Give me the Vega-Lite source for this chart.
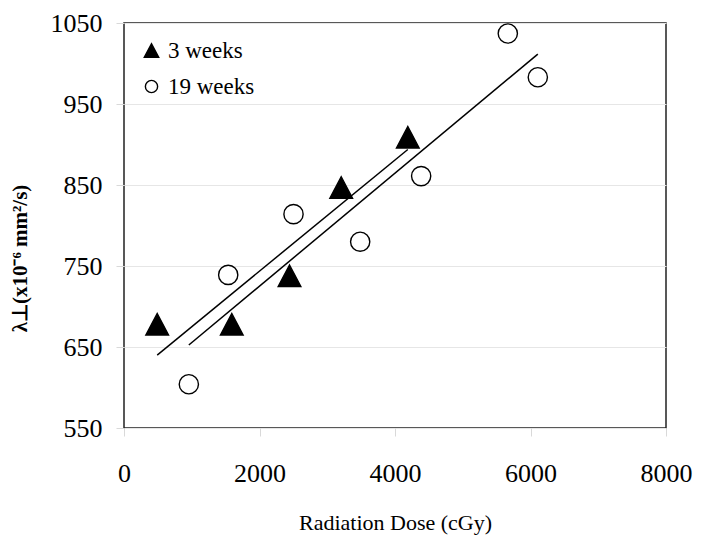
{
  "$schema": "https://vega.github.io/schema/vega-lite/v6.json",
  "width": 542,
  "height": 405,
  "autosize": "none",
  "padding": {"left": 124, "top": 23, "right": 42, "bottom": 118},
  "background": "white",
  "config": {
    "font": "Liberation Serif",
    "view": {"stroke": "#222222", "strokeWidth": 1.5},
    "legend": {
      "orient": "none",
      "legendX": 16,
      "legendY": 16,
      "padding": 0,
      "labelFontSize": 23,
      "labelColor": "black",
      "labelOffset": 5,
      "rowPadding": 12,
      "symbolSize": 150,
      "symbolStrokeWidth": 1.4
    }
  },
  "data": {
    "values": [
      {"series": "3 weeks", "dose": 490, "value": 678},
      {"series": "3 weeks", "dose": 1591, "value": 678},
      {"series": "3 weeks", "dose": 2443, "value": 738},
      {"series": "3 weeks", "dose": 3206, "value": 847},
      {"series": "3 weeks", "dose": 4189, "value": 909},
      {"series": "19 weeks", "dose": 957, "value": 604},
      {"series": "19 weeks", "dose": 1538, "value": 739},
      {"series": "19 weeks", "dose": 2502, "value": 814},
      {"series": "19 weeks", "dose": 3486, "value": 780},
      {"series": "19 weeks", "dose": 4386, "value": 861},
      {"series": "19 weeks", "dose": 5665, "value": 1037},
      {"series": "19 weeks", "dose": 6108, "value": 983}
    ]
  },
  "encoding": {
    "x": {
      "field": "dose",
      "type": "quantitative",
      "scale": {"domain": [0, 8000], "nice": false, "zero": false},
      "axis": {
        "values": [0, 2000, 4000, 6000, 8000],
        "format": "d",
        "grid": false,
        "domain": false,
        "ticks": true,
        "tickColor": "#d9d9d9",
        "tickSize": 8,
        "labelPadding": 24,
        "labelFontSize": 26,
        "labelColor": "black",
        "labelFlush": false,
        "title": "Radiation Dose (cGy)",
        "titleFontSize": 22,
        "titleFontWeight": "normal",
        "titleColor": "black",
        "titleBaseline": "middle",
        "titleY": 94
      }
    },
    "y": {
      "field": "value",
      "type": "quantitative",
      "scale": {"domain": [550, 1050], "nice": false, "zero": false},
      "axis": {
        "values": [550, 650, 750, 850, 950, 1050],
        "format": "d",
        "grid": true,
        "gridColor": "#e6e6e6",
        "gridWidth": 1,
        "domain": false,
        "ticks": true,
        "tickColor": "#d9d9d9",
        "tickSize": 8,
        "labelPadding": 14,
        "labelFontSize": 26,
        "labelColor": "black",
        "labelFlush": false,
        "title": "λ⊥(x10⁻⁶ mm²/s)",
        "titleFontSize": 21,
        "titleFontWeight": "bold",
        "titleColor": "black",
        "titleAngle": -90,
        "titleAlign": "center",
        "titleBaseline": "middle",
        "titleX": -104,
        "titleY": 235
      }
    }
  },
  "layer": [
    {
      "transform": [
        {"regression": "value", "on": "dose", "groupby": ["series"]}
      ],
      "mark": {"type": "line", "color": "black", "strokeWidth": 1.5},
      "encoding": {"detail": {"field": "series"}}
    },
    {
      "mark": {
        "type": "point",
        "filled": false,
        "color": "black",
        "stroke": "black",
        "strokeWidth": 1.4,
        "opacity": 1,
        "fillOpacity": 1,
        "strokeOpacity": 1,
        "size": 370
      },
      "encoding": {
        "shape": {
          "field": "series",
          "type": "nominal",
          "scale": {
            "domain": ["3 weeks", "19 weeks"],
            "range": ["M-1.18,1.12L1.18,1.12L0,-1.12Z", "circle"]
          },
          "legend": {
            "title": null,
            "symbolStrokeColor": "black",
            "symbolFillColor": "white",
            "encode": {
              "symbols": {
                "update": {
                  "fill": {"signal": "datum.value === '3 weeks' ? 'black' : 'white'"},
                  "stroke": {"value": "black"},
                  "strokeWidth": {"value": 1.4},
                  "opacity": {"value": 1},
                  "strokeOpacity": {"value": 1},
                  "fillOpacity": {"value": 1}
                }
              }
            }
          }
        },
        "fill": {
          "field": "series",
          "type": "nominal",
          "scale": {
            "domain": ["3 weeks", "19 weeks"],
            "range": ["black", "white"]
          },
          "legend": null
        }
      }
    }
  ]
}
